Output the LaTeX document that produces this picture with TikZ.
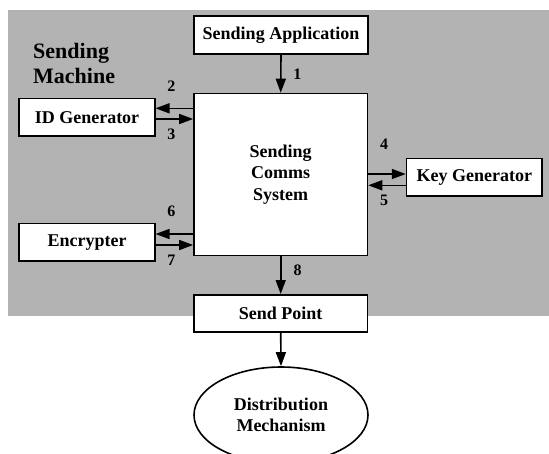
\documentclass[tikz,border=0pt]{standalone}
\usepackage{fontspec}
\setmainfont{Liberation Serif}
\usetikzlibrary{arrows.meta,shapes.geometric}
\definecolor{machinegray}{RGB}{179,179,179}

\tikzstyle{block}=[draw,line width=1.6pt,fill=white,align=center,inner sep=0pt,font=\fontsize{18}{21.3}\selectfont\bfseries]
\tikzstyle{flow}=[draw,line width=1.6pt,-{Triangle[length=14pt,width=10pt]}]
\tikzstyle{num}=[inner sep=0pt,font=\fontsize{16}{16}\selectfont\bfseries]
\tikzstyle{sidenum}=[num,xshift=-3pt]

\begin{document}
\begin{tikzpicture}[x=1pt,y=-1pt]
    \useasboundingbox (0,0) rectangle (549,453);
    \clip (0,0) rectangle (549,453);
    % the machine area
    \fill[machinegray] (8,10) rectangle (549,316);
    \node[anchor=west,align=left,inner sep=0pt,font=\fontsize{22}{25}\selectfont\bfseries] (machine) at (33,63) {Sending\\Machine};
    % First the boxes
    \node[block,minimum width=173.5pt,minimum height=38pt] (app) at (281,35.2) {Sending Application};
    \node[block,minimum width=173.5pt,minimum height=162pt] (comms) at (280.7,174.5) {Sending\\Comms\\System};
    \foreach \pos/\name/\txt in {{(87,117.2)/idgen/ID Generator}, {(474.3,177.2)/keygen/Key Generator}, {(87,242.2)/enc/Encrypter}}
        \node[block,minimum width=135.5pt,minimum height=37.4pt] (\name) at \pos {\txt};
    \node[block,minimum width=173.5pt,minimum height=37pt] (send) at (280.7,313.3) {Send Point};
    \node[block,ellipse,minimum width=174pt,minimum height=96pt] (dist) at (281,415) {Distribution\\Mechanism};
    % Points where the side arrows meet the boxes
    \coordinate (id2) at ([yshift=8.9pt]idgen.east);
    \coordinate (id3) at ([yshift=-1.8pt]idgen.east);
    \coordinate (key4) at ([yshift=3.2pt]keygen.west);
    \coordinate (key5) at ([yshift=-8.1pt]keygen.west);
    \coordinate (enc6) at ([yshift=8.2pt]enc.east);
    \coordinate (enc7) at ([yshift=-2.8pt]enc.east);
    % Then the numbered flows
    \draw[flow] (app.south) -- node[num,right=11.7pt] {1} (comms.north);
    \draw[flow] (comms.west |- id2) -- node[sidenum,above=16pt] {2} (id2);
    \draw[flow] (id3) -- node[sidenum,below=9pt] {3} (comms.west |- id3);
    \draw[flow] (comms.east |- key4) -- node[sidenum,above=23.6pt] {4} (key4);
    \draw[flow] (key5) -- node[sidenum,below=8.6pt] {5} (comms.east |- key5);
    \draw[flow] (comms.west |- enc6) -- node[sidenum,above=17pt] {6} (enc6);
    \draw[flow] (enc7) -- node[sidenum,below=9pt] {7} (comms.west |- enc7);
    \draw[flow] (comms.south) -- node[num,right=12pt,pos=0.37] {8} (send.north);
    \draw[flow] (send.south) -- (dist.north);
\end{tikzpicture}
\end{document}
